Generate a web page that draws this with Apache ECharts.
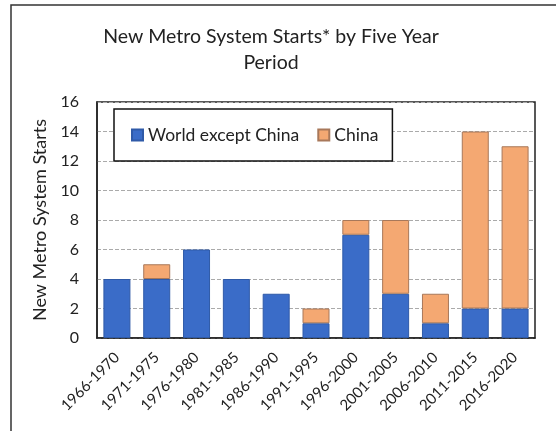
<!DOCTYPE html>
<html>
<head>
<meta charset="utf-8">
<script src="https://cdn.jsdelivr.net/npm/echarts@6/dist/echarts.min.js"></script>
<style>
html,body{margin:0;padding:0;background:#fff;}
#c{width:556px;height:431px;}
</style>
</head>
<body>
<div id="c"></div>
<script>
var categories = ['1966-1970','1971-1975','1976-1980','1981-1985','1986-1990','1991-1995','1996-2000','2001-2005','2006-2010','2011-2015','2016-2020'];
var worldExceptChina = [4,4,6,4,3,1,7,3,1,2,2];
var china = [0,1,0,0,0,1,1,5,2,12,11];
var yTicks = [0,2,4,6,8,10,12,14,16];

function noZero(arr){ return arr.map(function(v){ return v === 0 ? '-' : v; }); }

var FONT = 'Lato, "Open Sans", sans-serif';
var chart = echarts.init(document.getElementById('c'));
chart.setOption({
  animation: false,
  backgroundColor: '#fff',
  graphic: [
    {type:'rect', shape:{x:11, y:5, width:700, height:600}, style:{fill:'none', stroke:'#333', lineWidth:1.5}, z:-1}
  ],
  title: {
    text: 'New Metro System Starts* by Five Year\nPeriod',
    left: 266, top: 19, textAlign: 'center',
    textStyle: {fontFamily: FONT, fontSize: 19.5, fontWeight: 'normal', color: '#222', lineHeight: 26}
  },
  legend: {
    left: 114, top: 109,
    padding: [17, 14, 17, 17],
    itemWidth: 11, itemHeight: 11, itemGap: 18,
    borderColor: '#111', borderWidth: 1.5, backgroundColor: '#fff',
    textStyle: {fontFamily: FONT, fontSize: 17.5, color: '#222'},
    data: [{name:'World except China', icon:'rect'}, {name:'China', icon:'rect'}]
  },
  grid: {left: 97, top: 102, right: 21, bottom: 93, show: true, borderColor: '#222', borderWidth: 1.5, backgroundColor:'transparent'},
  xAxis: {
    type: 'category', data: categories,
    axisLine: {lineStyle: {color: '#222', width: 1.5}},
    axisTick: {alignWithLabel: true, length: 4, lineStyle:{color:'#222'}},
    axisLabel: {rotate: 45, fontFamily: FONT, fontSize: 15, color: '#222', margin: 17, interval: 0}
  },
  yAxis: {
    type: 'value', min: 0, max: 16, interval: 2,
    name: 'New Metro System Starts', nameLocation: 'middle', nameGap: 46,
    nameTextStyle: {fontFamily: FONT, fontSize: 18, color: '#222'},
    axisLine: {show: true, lineStyle: {color: '#222', width: 1.5}},
    axisTick: {show: false},
    axisLabel: {fontFamily: FONT, fontSize: 16, color: '#222', margin: 18},
    splitLine: {lineStyle: {color: '#aaa', type: 'dashed', width: 1}}
  },
  series: [
    {name: 'World except China', type: 'bar', stack: 's', data: noZero(worldExceptChina), barWidth: 27,
     itemStyle: {color: '#3a6cc8', borderColor: '#2f5aa8', borderWidth: 1}},
    {name: 'China', type: 'bar', stack: 's', data: noZero(china), barWidth: 27,
     itemStyle: {color: '#f4a872', borderColor: '#a8785a', borderWidth: 1}}
  ]
});
</script>
</body>
</html>
